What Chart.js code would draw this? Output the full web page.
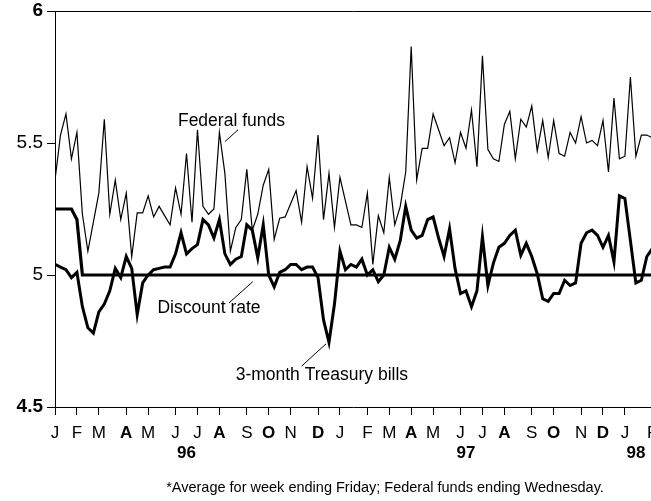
<!DOCTYPE html>
<html>
<head>
<meta charset="utf-8">
<script src="https://cdn.jsdelivr.net/npm/chart.js@4"></script>
<style>
  html, body { margin: 0; padding: 0; background: #fff; }
  #wrap { width: 651px; height: 501px; position: relative; }
</style>
</head>
<body>
<div id="wrap"><canvas id="rates"></canvas></div>
<script>
// weekly averages, Jan 5 1996 (week 0) to early Feb 1998
const fedFunds = [
  5.36, 5.53, 5.61, 5.44, 5.54, 5.23, 5.09, 5.20, 5.31, 5.59,
  5.23, 5.36, 5.21, 5.31, 5.07, 5.235, 5.235, 5.30, 5.22, 5.26,
  5.225, 5.19, 5.33, 5.23, 5.46, 5.20, 5.55, 5.26, 5.23, 5.25,
  5.54, 5.385, 5.09, 5.18, 5.21, 5.40, 5.17, 5.23, 5.34, 5.40,
  5.135, 5.215, 5.22, 5.27, 5.32, 5.20, 5.41, 5.29, 5.53, 5.21,
  5.385, 5.18, 5.37, 5.28, 5.19, 5.19, 5.18, 5.31, 5.04, 5.225,
  5.16, 5.37, 5.19, 5.26, 5.39, 5.865, 5.36, 5.48, 5.48, 5.61,
  5.55, 5.49, 5.52, 5.425, 5.54, 5.48, 5.625, 5.41, 5.83, 5.475,
  5.44, 5.43, 5.57, 5.62, 5.44, 5.59, 5.56, 5.64, 5.47, 5.585,
  5.445, 5.585, 5.46, 5.45, 5.54, 5.50, 5.60, 5.50, 5.51, 5.49,
  5.585, 5.39, 5.67, 5.44, 5.45, 5.75, 5.45, 5.53, 5.53, 5.52
];
const tBills = [
  5.04, 5.03, 5.02, 4.99, 5.01, 4.88, 4.80, 4.78, 4.86, 4.89,
  4.94, 5.025, 4.99, 5.07, 5.025, 4.85, 4.97, 5.00, 5.02, 5.025,
  5.03, 5.03, 5.08, 5.16, 5.08, 5.10, 5.115, 5.21, 5.19, 5.14,
  5.21, 5.08, 5.04, 5.06, 5.07, 5.19, 5.17, 5.065, 5.19, 5.00,
  4.955, 5.01, 5.02, 5.04, 5.04, 5.02, 5.03, 5.03, 4.99, 4.83,
  4.745, 4.89, 5.09, 5.02, 5.04, 5.03, 5.06, 5.00, 5.02, 4.975,
  5.00, 5.105, 5.06, 5.13, 5.26, 5.17, 5.14, 5.15, 5.21, 5.22,
  5.14, 5.07, 5.175, 5.025, 4.93, 4.94, 4.88, 4.94, 5.145, 4.96,
  5.045, 5.105, 5.12, 5.15, 5.17, 5.075, 5.12, 5.07, 5.005, 4.91,
  4.90, 4.93, 4.93, 4.98, 4.96, 4.97, 5.12, 5.16, 5.17, 5.15,
  5.105, 5.15, 5.05, 5.30, 5.29, 5.13, 4.97, 4.98, 5.07, 5.10
];
// discount rate only changes once (cut at end of Jan 96)
const discountWeeks = [0, 3, 4, 5, 109];
const discountRate = [5.25, 5.25, 5.21, 5.00, 5.00];

// month ticks fall on the first weekly observation of each month
const tickWeeks = [0, 4, 8, 13, 17, 22, 26, 30, 35, 39, 43, 48,
                   52, 57, 61, 65, 69, 74, 78, 82, 87, 91, 96, 100, 104, 109];
const monthLabels = ['J','F','M','A','M','J','J','A','S','O','N','D',
                     'J','F','M','A','M','J','J','A','S','O','N','D','J','F'];
const boldMonths = ['A', 'O', 'D'];
const years = ['96', '97', '98'];
const yearWeeks = [24, 75, 106];

const notes = [
  { text: 'Federal funds', at: [32.2, 5.583], line: [[31.0, 5.505], [33.4, 5.55]] },
  { text: 'Discount rate', at: [28.1, 4.875], line: [[31.75, 4.894], [36.1, 4.975]] },
  { text: '3-month Treasury bills', at: [48.7, 4.621], line: [[45.0, 4.655], [49.45, 4.739]] }
];
const footnote = '*Average for week ending Friday; Federal funds ending Wednesday.';

const FONT = '"Liberation Sans", Arial, Helvetica, sans-serif';

const toPoints = arr => arr.map((v, i) => ({ x: i, y: v }));

const annotate = {
  id: 'annotate',
  afterDraw(chart) {
    const { ctx, scales: { x, y } } = chart;
    ctx.save();
    ctx.fillStyle = '#000';
    ctx.strokeStyle = '#000';
    ctx.lineWidth = 1;
    ctx.textAlign = 'center';
    ctx.textBaseline = 'middle';
    ctx.font = '17.5px ' + FONT;
    notes.forEach(n => {
      ctx.fillText(n.text, x.getPixelForValue(n.at[0]), y.getPixelForValue(n.at[1]));
      ctx.beginPath();
      ctx.moveTo(x.getPixelForValue(n.line[0][0]), y.getPixelForValue(n.line[0][1]));
      ctx.lineTo(x.getPixelForValue(n.line[1][0]), y.getPixelForValue(n.line[1][1]));
      ctx.stroke();
    });
    ctx.font = 'bold 17px ' + FONT;
    years.forEach((yr, i) => {
      ctx.fillText(yr, x.getPixelForValue(yearWeeks[i]), chart.chartArea.bottom + 46);
    });
    ctx.font = '14.5px ' + FONT;
    ctx.fillText(footnote, 385, 488);
    ctx.restore();
  }
};

new Chart(document.getElementById('rates'), {
  type: 'line',
  data: {
    datasets: [
      {
        label: 'Federal funds',
        data: toPoints(fedFunds),
        borderColor: '#000',
        borderWidth: 1.2,
        pointRadius: 0,
        tension: 0
      },
      {
        label: '3-month Treasury bills',
        data: toPoints(tBills),
        borderColor: '#000',
        borderWidth: 3,
        pointRadius: 0,
        tension: 0
      },
      {
        label: 'Discount rate',
        data: discountWeeks.map((w, i) => ({ x: w, y: discountRate[i] })),
        borderColor: '#000',
        borderWidth: 3.2,
        pointRadius: 0,
        tension: 0
      }
    ]
  },
  options: {
    responsive: true,
    maintainAspectRatio: false,
    animation: false,
    layout: { padding: { top: 11, right: 0, left: 0, bottom: 0 } },
    plugins: {
      legend: { display: false },
      tooltip: { enabled: false },
      title: { display: false }
    },
    scales: {
      x: {
        type: 'linear',
        min: 0,
        max: 108.76,
        afterBuildTicks: s => { s.ticks = tickWeeks.map(v => ({ value: v })); },
        afterFit: s => { s.height = 94; s.paddingLeft = 0; s.paddingRight = 0; },
        grid: { drawOnChartArea: false, tickColor: '#000', tickLength: 8 },
        border: { display: true, color: '#000', width: 1 },
        ticks: {
          autoSkip: false,
          maxRotation: 0,
          minRotation: 0,
          padding: 8,
          color: '#000',
          callback: v => monthLabels[tickWeeks.indexOf(v)],
          font: c => ({
            family: FONT,
            size: 17,
            weight: c.tick && boldMonths.includes(monthLabels[tickWeeks.indexOf(c.tick.value)]) ? 'bold' : 'normal'
          })
        }
      },
      y: {
        min: 4.5,
        max: 6,
        afterFit: s => { s.width = 55; s.paddingTop = 0; s.paddingBottom = 0; },
        grid: {
          color: c => (c.tick && c.tick.value === 6 ? '#000' : 'rgba(0,0,0,0)'),
          tickColor: '#000',
          tickLength: 8
        },
        border: { display: true, color: '#000', width: 1 },
        ticks: {
          stepSize: 0.5,
          padding: 4,
          color: '#000',
          callback: v => String(v),
          font: c => ({
            family: FONT,
            size: 19,
            weight: c.tick && (c.tick.value === 6 || c.tick.value === 4.5) ? 'bold' : 'normal'
          })
        }
      }
    }
  },
  plugins: [annotate]
});
</script>
</body>
</html>
